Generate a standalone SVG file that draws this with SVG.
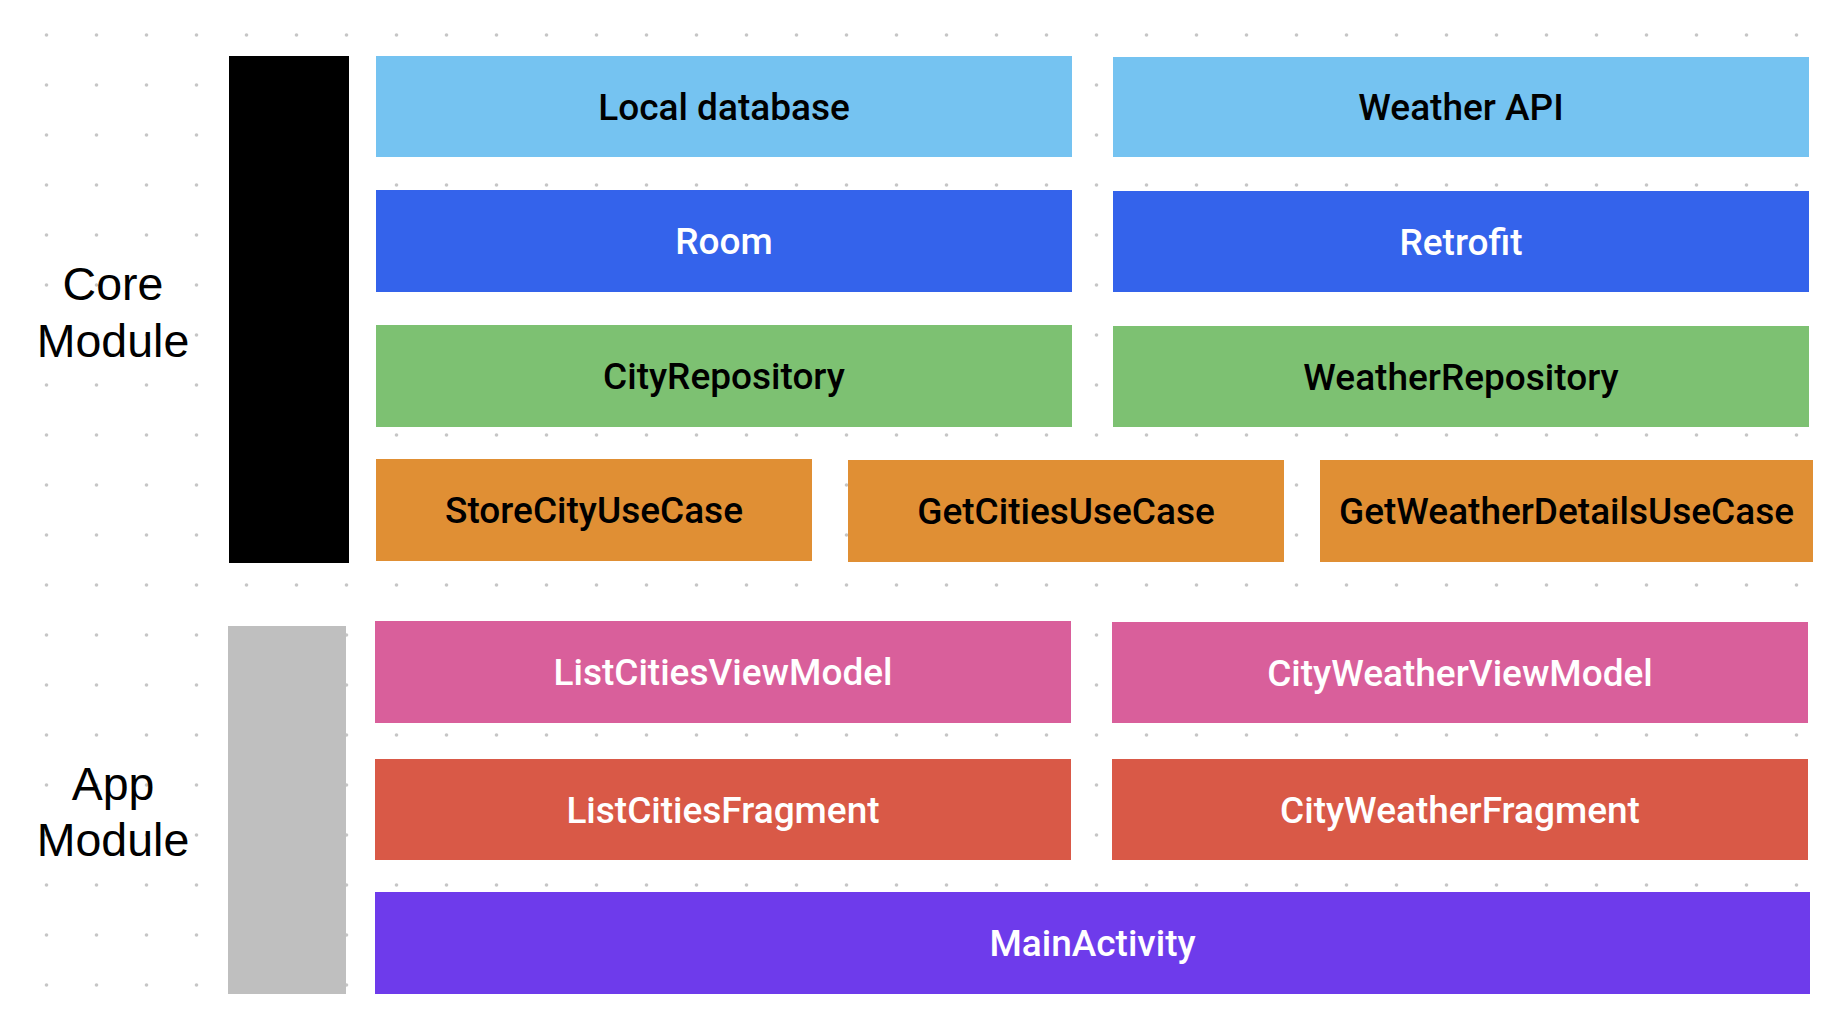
<svg xmlns="http://www.w3.org/2000/svg" width="1844" height="1026" viewBox="0 0 1844 1026">
<defs>
<pattern id="dots" x="0" y="0" width="50" height="50" patternUnits="userSpaceOnUse">
<circle cx="46.5" cy="35" r="1.8" fill="#c6c6c6"/>
</pattern>
<style>
.lbl{font-family:Roboto,"Liberation Sans",Arial,sans-serif;font-weight:500;font-size:37px;text-anchor:middle}
.dark{fill:#000}
.light{fill:#fff}
.mod{font-family:"Liberation Sans",Arial,sans-serif;font-size:46.5px;text-anchor:middle;fill:#000}
</style>
</defs>
<rect width="1844" height="1026" fill="#fff"/>
<rect width="1844" height="1026" fill="url(#dots)"/>
<g id="core-module">
<rect x="229" y="56" width="120" height="507" fill="#000"/>
<text class="mod" x="113" y="300">Core</text>
<text class="mod" x="113" y="356.5">Module</text>
</g>
<g id="app-module">
<rect x="228" y="626" width="118" height="368" fill="#bfbfbf"/>
<text class="mod" x="113" y="799.5">App</text>
<text class="mod" x="113" y="855.5">Module</text>
</g>
<g id="local-database"><rect x="376" y="56" width="696" height="101" fill="#75c3f1"/><text class="lbl dark" x="724" y="119.5">Local database</text></g>
<g id="weather-api"><rect x="1113" y="57" width="696" height="100" fill="#75c3f1"/><text class="lbl dark" x="1461" y="120">Weather API</text></g>
<g id="room"><rect x="376" y="190" width="696" height="102" fill="#3463eb"/><text class="lbl light" x="724" y="254">Room</text></g>
<g id="retrofit"><rect x="1113" y="191" width="696" height="101" fill="#3463eb"/><text class="lbl light" x="1461" y="254.5">Retrofit</text></g>
<g id="city-repository"><rect x="376" y="325" width="696" height="102" fill="#7dc172"/><text class="lbl dark" x="724" y="389">CityRepository</text></g>
<g id="weather-repository"><rect x="1113" y="326" width="696" height="101" fill="#7dc172"/><text class="lbl dark" x="1461" y="389.5">WeatherRepository</text></g>
<g id="store-city-use-case"><rect x="376" y="459" width="436" height="102" fill="#e08f34"/><text class="lbl dark" x="594" y="523">StoreCityUseCase</text></g>
<g id="get-cities-use-case"><rect x="848" y="460" width="436" height="102" fill="#e08f34"/><text class="lbl dark" x="1066" y="524">GetCitiesUseCase</text></g>
<g id="get-weather-details-use-case"><rect x="1320" y="460" width="493" height="102" fill="#e08f34"/><text class="lbl dark" x="1566.5" y="524">GetWeatherDetailsUseCase</text></g>
<g id="list-cities-view-model"><rect x="375" y="621" width="696" height="102" fill="#d95f9b"/><text class="lbl light" x="723" y="685">ListCitiesViewModel</text></g>
<g id="city-weather-view-model"><rect x="1112" y="622" width="696" height="101" fill="#d95f9b"/><text class="lbl light" x="1460" y="685.5">CityWeatherViewModel</text></g>
<g id="list-cities-fragment"><rect x="375" y="759" width="696" height="101" fill="#d95947"/><text class="lbl light" x="723" y="822.5">ListCitiesFragment</text></g>
<g id="city-weather-fragment"><rect x="1112" y="759" width="696" height="101" fill="#d95947"/><text class="lbl light" x="1460" y="822.5">CityWeatherFragment</text></g>
<g id="main-activity"><rect x="375" y="892" width="1435" height="102" fill="#6e3beb"/><text class="lbl light" x="1092.5" y="956">MainActivity</text></g>
<g id="connectors"/>
</svg>
